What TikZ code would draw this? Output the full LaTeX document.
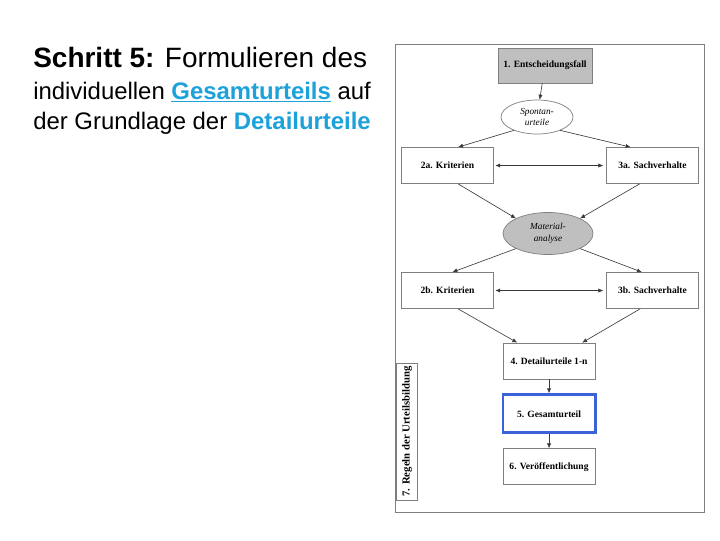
\documentclass[tikz,border=0pt]{standalone}
\usepackage{fontspec}
\setmainfont{Liberation Serif}
\newfontfamily\slidefont{Liberation Sans}
\usepackage{xcolor}
\usetikzlibrary{arrows.meta,positioning,shapes.geometric}
\definecolor{framegray}{HTML}{7F7F7F}
\definecolor{boxgray}{HTML}{BFBFBF}
\definecolor{linegray}{HTML}{3A3A3A}
\definecolor{headblue}{HTML}{1DA1DB}
\definecolor{markblue}{HTML}{3B62D8}

\begin{document}
\begin{tikzpicture}[x=0.025cm, y=-0.025cm,
    box/.style={rectangle, draw=framegray, fill=white, font=\fontsize{6.8}{8}\selectfont\bfseries, minimum width=2.3cm, minimum height=0.9cm, inner sep=0pt, line width=0.5pt},
    oval/.style={ellipse, draw=framegray, font=\fontsize{6.6}{8.4}\selectfont\itshape, align=center, inner sep=0pt, line width=0.5pt},
    arr/.style={-{Latex[length=3.5pt,width=3pt]}, linegray, line width=0.45pt},
    darr/.style={{Latex[length=3.5pt,width=3pt]}-{Latex[length=3.5pt,width=3pt]}, linegray, line width=0.45pt, shorten <=1pt, shorten >=2pt},
    headline/.style={anchor=base west, inner sep=0pt}
]
\useasboundingbox (0,0) rectangle (720,540);
\node[headline, font=\slidefont\fontsize{19.9}{24}\selectfont] (head) at (33,67) {\textbf{Schritt 5:} Formulieren des};
\node[headline, font=\slidefont\fontsize{17}{21}\selectfont] (headtwo) at (33,99) {individuellen \textcolor{headblue}{\underline{\textbf{Gesamturteils}}} auf};
\node[headline, font=\slidefont\fontsize{17}{21}\selectfont] (headthree) at (33,129) {der Grundlage der \textcolor{headblue}{\textbf{Detailurteile}}};

\draw[framegray, line width=0.7pt] (395,44) rectangle (704,512);

\node[box, fill=boxgray, minimum width=2.35cm, minimum height=0.875cm] (fall) at (545,65.5) {1. Entscheidungsfall};
\node[oval, minimum width=1.8cm, minimum height=0.85cm] (spontan) at (537,117) {Spontan-\\urteile};
\node[box] (krit2a) at (447.5,165.5) {2a. Kriterien};
\node[box] (sach3a) at (652.5,165.5) {3a. Sachverhalte};
\node[oval, fill=boxgray, minimum width=2.25cm, minimum height=1.05cm] (material) at (548,233.5) {Material-\\analyse};
\node[box] (krit2b) at (447.5,290.5) {2b. Kriterien};
\node[box] (sach3b) at (652.5,290.5) {3b. Sachverhalte};
\node[box] (detail) at (549,361) {4. Detailurteile 1-n};
\node[box, below=0.35cm of detail, draw=markblue, line width=2.1pt, minimum height=0.95cm] (gesamt) {5. Gesamturteil};
\node[box, below=0.35cm of gesamt] (publik) {6. Veröffentlichung};
\node[box, rotate=90, minimum width=3.425cm, minimum height=0.525cm, font=\fontsize{7.6}{8}\selectfont\bfseries] (regeln) at (407,431.5) {7. Regeln der Urteilsbildung};

\draw[arr] (fall) -- (spontan);
\draw[arr] (spontan.210) -- (krit2a.60);
\draw[arr] (spontan.330) -- (sach3a.140);
\draw[darr] (krit2a) -- (sach3a);
\draw[arr] (krit2a.-60) -- (material.north west);
\draw[arr] (sach3a.-125) -- (material.north east);
\draw[arr] (material.south west) -- (krit2b.75);
\draw[arr] (material.south east) -- (sach3b.120);
\draw[darr] (krit2b) -- (sach3b);
\draw[arr] (krit2b.-60) -- (detail.150);
\draw[arr] (sach3b.-124) -- (detail.29);
\draw[arr] (detail) -- (gesamt);
\draw[arr] (gesamt) -- (publik);
\end{tikzpicture}
\end{document}
